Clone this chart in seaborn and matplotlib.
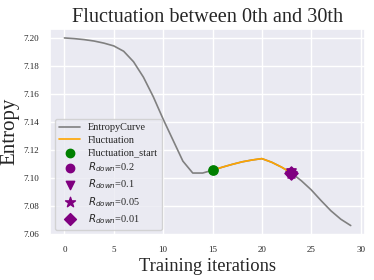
import matplotlib
matplotlib.use('Agg')
import matplotlib.pyplot as plt
import numpy as np
import seaborn as sns

# Entropy over training iterations
iterations = list(range(30))
entropy = [7.2000, 7.1995, 7.1988, 7.1978, 7.1963, 7.1943, 7.1905, 7.1830,
           7.1720, 7.1580, 7.1420, 7.1270, 7.1120, 7.1035, 7.1035, 7.1055,
           7.1077, 7.1097, 7.1115, 7.1128, 7.1138, 7.1112, 7.1077, 7.1035,
           7.0980, 7.0915, 7.0838, 7.0765, 7.0705, 7.0660]
fluct_start, fluct_end = 15, 23
r_down_values = ['0.2', '0.1', '0.05', '0.01']
r_down_markers = ['o', 'v', '*', 'D']
r_down_iters = [23, 23, 23, 23]

sns.set_theme(style='darkgrid')
plt.rcParams['font.family'] = ['Liberation Serif', 'DejaVu Sans']
plt.rcParams['mathtext.fontset'] = 'dejavusans'

fig, ax = plt.subplots(figsize=(3.74, 2.8), dpi=100)
fig.subplots_adjust(left=0.134, right=0.976, top=0.898, bottom=0.161)

sns.lineplot(x=iterations, y=entropy, color='gray', lw=1.2,
             label='EntropyCurve', ax=ax)
seg_x = iterations[fluct_start:fluct_end + 1]
seg_y = entropy[fluct_start:fluct_end + 1]
sns.lineplot(x=seg_x, y=seg_y, color='orange', lw=1.2,
             label='Fluctuation', ax=ax)
ax.scatter([fluct_start], [entropy[fluct_start]], color='green', s=45,
           zorder=5, label='Fluctuation_start')
for val, mk, it in zip(r_down_values, r_down_markers, r_down_iters):
    size = 70 if mk == '*' else 45
    ax.scatter([it], [entropy[it]], color='purple', marker=mk, s=size,
               zorder=5, label=f'$R_{{down}}$={val}')

ax.set_yticks([7.06, 7.08, 7.10, 7.12, 7.14, 7.16, 7.18, 7.20])
ax.set_xticks([0, 5, 10, 15, 20, 25, 30])
ax.tick_params(labelsize=6.5, pad=2)
ax.set_title('Fluctuation between 0th and 30th', fontsize=14.6, pad=5)
ax.set_xlabel('Training iterations', fontsize=13.3, labelpad=3)
ax.set_ylabel('Entropy', fontsize=15, labelpad=3)
ax.legend(loc='lower left', fontsize=7.4, labelspacing=0.32, markerscale=0.9)

fig.savefig('out.png', dpi=100)
